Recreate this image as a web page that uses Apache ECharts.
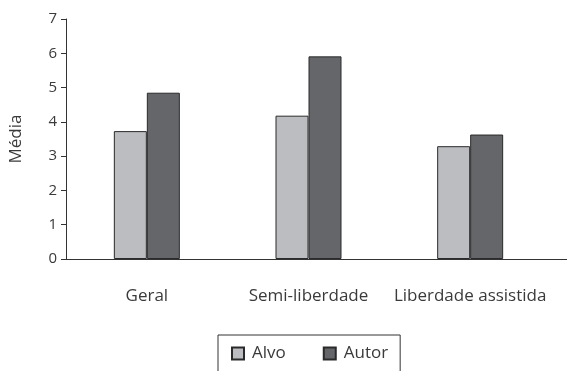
<!DOCTYPE html>
<html>
<head>
<meta charset="UTF-8">
<title>Média</title>
<script src="https://cdn.jsdelivr.net/npm/echarts@6/dist/echarts.min.js"></script>
<style>
  html, body { margin: 0; padding: 0; background: #fff; }
  #chart { width: 567px; height: 371px; }
</style>
</head>
<body>
<div id="chart"></div>
<script>
var categories = ['Geral', 'Semi-liberdade', 'Liberdade assistida'];
var alvo = [3.73, 4.18, 3.29];
var autor = [4.85, 5.91, 3.63];
var yTicks = [0, 7, 1]; // min, max, interval

var chart = echarts.init(document.getElementById('chart'));
var font = 'Open Sans';
var ink = '#3a3a3a';

var option = {
  animation: false,
  grid: { left: 65, top: 19, width: 486, height: 240 },
  // the original x axis line runs on to the right edge
  graphic: [{
    type: 'line', silent: true,
    shape: { x1: 551, y1: 259.5, x2: 567, y2: 259.5 },
    style: { stroke: '#333', lineWidth: 1 }
  }],
  legend: {
    data: ['Alvo', 'Autor'],
    left: 218, top: 335,
    padding: [10, 12, 20, 13],
    itemGap: 37,
    icon: 'rect',
    itemWidth: 12, itemHeight: 12,
    borderColor: '#333', borderWidth: 1,
    textStyle: { fontFamily: font, fontSize: 17, color: ink, padding: [0, 0, 0, 3] }
  },
  xAxis: {
    type: 'category',
    data: categories,
    axisLine: { lineStyle: { color: '#333', width: 1 } },
    axisTick: { show: false },
    axisLabel: { interval: 0, fontFamily: font, fontSize: 17, color: ink, margin: 29 }
  },
  yAxis: {
    type: 'value',
    min: yTicks[0], max: yTicks[1], interval: yTicks[2],
    name: 'Média',
    nameLocation: 'middle',
    nameGap: 41,
    nameTextStyle: { fontFamily: font, fontSize: 17, color: ink },
    axisLine: { show: true, lineStyle: { color: '#333', width: 1 } },
    axisTick: { show: true, length: 5, lineStyle: { color: '#333' } },
    splitLine: { show: false },
    axisLabel: { fontFamily: font, fontSize: 15, color: ink, margin: 9 }
  },
  series: [
    {
      name: 'Alvo', type: 'bar', data: alvo,
      barWidth: 33, barGap: '0%',
      itemStyle: { color: '#bcbdc1', borderColor: '#2a2a2a', borderWidth: 1 }
    },
    {
      name: 'Autor', type: 'bar', data: autor,
      barWidth: 33, barGap: '0%',
      itemStyle: { color: '#65666a', borderColor: '#2a2a2a', borderWidth: 1 }
    }
  ]
};

chart.setOption(option);
</script>
</body>
</html>
